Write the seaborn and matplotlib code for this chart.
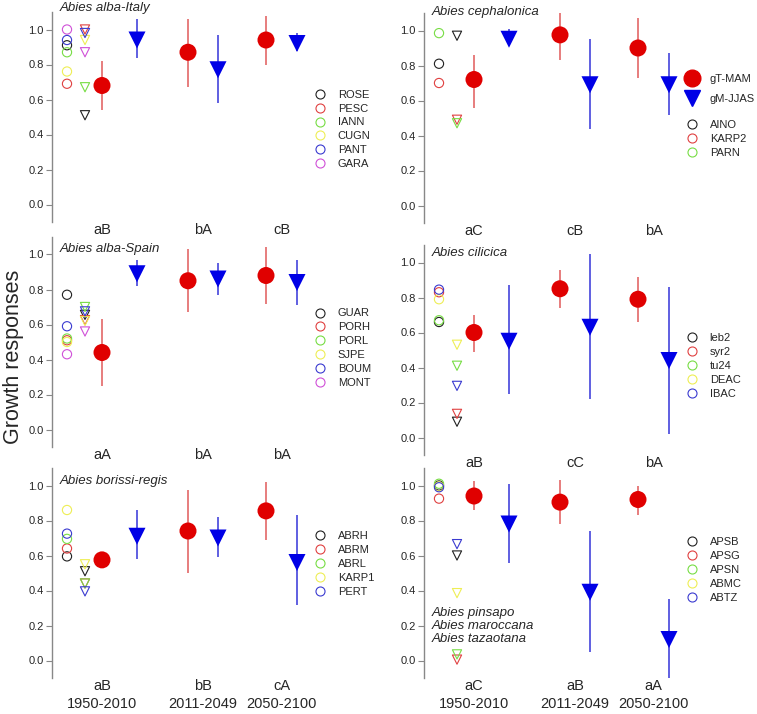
import matplotlib
matplotlib.use("Agg")
import matplotlib.pyplot as plt
from matplotlib.lines import Line2D
import pandas as pd
import seaborn as sns

sns.set_theme(style="white")
plt.rcParams["font.family"] = ["Liberation Sans", "DejaVu Sans"]

periods = ["1950-2010", "2011-2049", "2050-2100"]

# --- Abies alba-Italy
italy_sites = ["ROSE", "PESC", "IANN", "CUGN", "PANT", "GARA"]
italy_circ = [0.91, 0.69, 0.87, 0.76, 0.94, 1.00]
italy_tri = [0.51, 1.00, 0.67, 0.94, 0.98, 0.87]
italy_red = [0.68, 0.87, 0.94]
italy_red_lo = [0.54, 0.67, 0.80]
italy_red_hi = [0.82, 1.06, 1.08]
italy_blue = [0.94, 0.77, 0.92]
italy_blue_lo = [0.84, 0.58, 0.88]
italy_blue_hi = [1.06, 0.97, 0.98]
italy_letters = ["aB", "bA", "cB"]

# --- Abies cephalonica
ceph_sites = ["AINO", "KARP2", "PARN"]
ceph_circ = [0.81, 0.70, 0.985]
ceph_tri = [0.97, 0.49, 0.47]
ceph_red = [0.72, 0.975, 0.90]
ceph_red_lo = [0.56, 0.83, 0.73]
ceph_red_hi = [0.86, 1.10, 1.07]
ceph_blue = [0.95, 0.69, 0.69]
ceph_blue_lo = [0.92, 0.44, 0.52]
ceph_blue_hi = [1.01, 0.95, 0.87]
ceph_letters = ["aC", "cB", "bA"]

# --- Abies alba-Spain
spain_sites = ["GUAR", "PORH", "PORL", "SJPE", "BOUM", "MONT"]
spain_circ = [0.77, 0.51, 0.52, 0.50, 0.59, 0.43]
spain_tri = [0.655, 0.625, 0.70, 0.62, 0.675, 0.56]
spain_red = [0.44, 0.85, 0.88]
spain_red_lo = [0.25, 0.67, 0.72]
spain_red_hi = [0.63, 1.03, 1.04]
spain_blue = [0.89, 0.86, 0.84]
spain_blue_lo = [0.82, 0.77, 0.71]
spain_blue_hi = [0.97, 0.95, 0.97]
spain_letters = ["aA", "bA", "bA"]

# --- Abies cilicica
cil_sites = ["leb2", "syr2", "tu24", "DEAC", "IBAC"]
cil_circ = [0.66, 0.83, 0.67, 0.79, 0.845]
cil_tri = [0.09, 0.135, 0.41, 0.53, 0.295]
cil_red = [0.60, 0.85, 0.79]
cil_red_lo = [0.49, 0.74, 0.66]
cil_red_hi = [0.70, 0.96, 0.92]
cil_blue = [0.55, 0.63, 0.44]
cil_blue_lo = [0.25, 0.22, 0.02]
cil_blue_hi = [0.87, 1.05, 0.86]
cil_letters = ["aB", "cC", "bA"]

# --- Abies borissi-regis
bor_sites = ["ABRH", "ABRM", "ABRL", "KARP1", "PERT"]
bor_circ = [0.595, 0.64, 0.695, 0.86, 0.725]
bor_tri = [0.51, 0.44, 0.44, 0.55, 0.395]
bor_red = [0.575, 0.74, 0.855]
bor_red_lo = [0.57, 0.50, 0.69]
bor_red_hi = [0.58, 0.975, 1.02]
bor_blue = [0.71, 0.70, 0.56]
bor_blue_lo = [0.58, 0.59, 0.32]
bor_blue_hi = [0.86, 0.82, 0.83]
bor_letters = ["aB", "bB", "cA"]

# --- Abies pinsapo / maroccana / tazaotana
pin_sites = ["APSB", "APSG", "APSN", "ABMC", "ABTZ"]
pin_circ = [1.00, 0.925, 1.01, 0.995, 0.99]
pin_tri = [0.60, 0.005, 0.035, 0.385, 0.665]
pin_red = [0.94, 0.905, 0.92]
pin_red_lo = [0.86, 0.78, 0.83]
pin_red_hi = [1.025, 1.03, 1.00]
pin_blue = [0.78, 0.39, 0.12]
pin_blue_lo = [0.56, 0.05, -0.10]
pin_blue_hi = [1.01, 0.74, 0.35]
pin_letters = ["aC", "aB", "aA"]

site_palette = ["#202020", "#e04040", "#77dd44", "#eeee55", "#3a3ad0", "#d050d8"]
red_c, red_err = "#e00000", "#e05a5a"
blue_c, blue_err = "#0000e6", "#3434d8"

# x layout (pixel-like units from the axis)
X_CIRC, X_TRI = 15, 33
X_RED = [50, 136, 214]
X_BLUE = [85, 166, 245]
X_TICKS = [50, 151, 229.5]

panels = [
    dict(title="Abies alba-Italy", ty=1.12, sites=italy_sites, circ=italy_circ, tri=italy_tri,
         red=(italy_red, italy_red_lo, italy_red_hi), blue=(italy_blue, italy_blue_lo, italy_blue_hi),
         letters=italy_letters, pos=(52, 12), leg_y=0.63),
    dict(title="Abies cephalonica", ty=1.105, sites=ceph_sites, circ=ceph_circ, tri=ceph_tri,
         red=(ceph_red, ceph_red_lo, ceph_red_hi), blue=(ceph_blue, ceph_blue_lo, ceph_blue_hi),
         letters=ceph_letters, pos=(424, 13), leg_y=0.49, means_legend=True),
    dict(title="Abies alba-Spain", ty=1.034, sites=spain_sites, circ=spain_circ, tri=spain_tri,
         red=(spain_red, spain_red_lo, spain_red_hi), blue=(spain_blue, spain_blue_lo, spain_blue_hi),
         letters=spain_letters, pos=(52, 237), leg_y=0.66),
    dict(title="Abies cilicica", ty=1.057, sites=cil_sites, circ=cil_circ, tri=cil_tri,
         red=(cil_red, cil_red_lo, cil_red_hi), blue=(cil_blue, cil_blue_lo, cil_blue_hi),
         letters=cil_letters, pos=(424, 245), leg_y=0.58),
    dict(title="Abies borissi-regis", ty=1.025, sites=bor_sites, circ=bor_circ, tri=bor_tri,
         red=(bor_red, bor_red_lo, bor_red_hi), blue=(bor_blue, bor_blue_lo, bor_blue_hi),
         letters=bor_letters, pos=(52, 468), leg_y=0.70, bottom=True),
    dict(title="Abies pinsapo\nAbies maroccana\nAbies tazaotana", ty=0.195, sites=pin_sites,
         circ=pin_circ, tri=pin_tri,
         red=(pin_red, pin_red_lo, pin_red_hi), blue=(pin_blue, pin_blue_lo, pin_blue_hi),
         letters=pin_letters, pos=(424, 468), leg_y=0.67, bottom=True),
]

W, H = 757, 714
fig = plt.figure(figsize=(W / 100, H / 100), dpi=100)
AW, AH = 333, 210

for p in panels:
    left, top = p["pos"]
    ax = fig.add_axes([left / W, (H - top - AH) / H, AW / W, AH / H])
    n = len(p["sites"])
    pal = site_palette[:n]

    circ_df = pd.DataFrame({"x": [X_CIRC] * n, "y": p["circ"], "site": p["sites"]})
    tri_df = pd.DataFrame({"x": [X_TRI] * n, "y": p["tri"], "site": p["sites"]})
    for df, mk in ((circ_df, "o"), (tri_df, "v")):
        sns.scatterplot(data=df, x="x", y="y", hue="site", palette=pal, marker=mk,
                        s=44, legend=False, ax=ax, zorder=2)
        coll = ax.collections[-1]
        coll.set_edgecolors(coll.get_facecolors())
        coll.set_facecolors("none")
        coll.set_linewidths(0.8)

    r, rlo, rhi = p["red"]
    b, blo, bhi = p["blue"]
    ax.vlines(X_RED, rlo, rhi, color=red_err, lw=1.1, zorder=3)
    ax.vlines(X_BLUE, blo, bhi, color=blue_err, lw=1.1, zorder=3)
    sns.scatterplot(x=X_RED, y=r, color=red_c, marker="o", s=150, edgecolor="none",
                    ax=ax, zorder=4)
    sns.scatterplot(x=X_BLUE, y=b, color=blue_c, marker="v", s=150, edgecolor="none",
                    ax=ax, zorder=4)

    ax.set_xlim(0, AW)
    ax.set_ylim(-0.1, 1.1)
    ax.set_yticks([0, 0.2, 0.4, 0.6, 0.8, 1.0])
    ax.set_yticklabels([f"{v:.1f}" for v in [0, 0.2, 0.4, 0.6, 0.8, 1.0]], fontsize=8)
    ax.tick_params(axis="y", direction="out", length=4, width=0.8, color="#888888", pad=2,
                   left=True)
    ax.set_xticks(X_TICKS)
    if p.get("bottom"):
        labs = [f"{l}\n{pr}" for l, pr in zip(p["letters"], periods)]
    else:
        labs = p["letters"]
    ax.set_xticklabels(labs, fontsize=10.5, linespacing=1.3)
    ax.tick_params(axis="x", length=0, pad=1)
    ax.set_xlabel("")
    ax.set_ylabel("")
    for s in ("top", "right", "bottom"):
        ax.spines[s].set_visible(False)
    ax.spines["left"].set_color("#888888")
    ax.spines["left"].set_linewidth(1.0)

    ax.text(8, p["ty"], p["title"], style="italic", fontsize=9.5, ha="left", va="center",
            linespacing=1.1)

    handles = [Line2D([], [], ls="none", marker="o", ms=6.5, mfc="none", mec=c, mew=0.8)
               for c in pal]
    leg = ax.legend(handles, p["sites"], loc="upper left", bbox_to_anchor=(0.788, p["leg_y"]),
                    frameon=False, fontsize=8, handlelength=1.0, handletextpad=1.1,
                    labelspacing=0.35, borderpad=0, borderaxespad=0)
    if p.get("means_legend"):
        ax.add_artist(leg)
        mh = [Line2D([], [], ls="none", marker="o", ms=12, color=red_c),
              Line2D([], [], ls="none", marker="v", ms=12, color=blue_c)]
        ax.legend(mh, ["gT-MAM", "gM-JJAS"], loc="upper left", bbox_to_anchor=(0.788, 0.71),
                  frameon=False, fontsize=8, handlelength=1.0, handletextpad=1.1,
                  labelspacing=0.9, borderpad=0, borderaxespad=0)

fig.text(14 / W, 0.5, "Growth responses", rotation=90, ha="center", va="center", fontsize=15.5)

fig.savefig("out.png", dpi=100)
